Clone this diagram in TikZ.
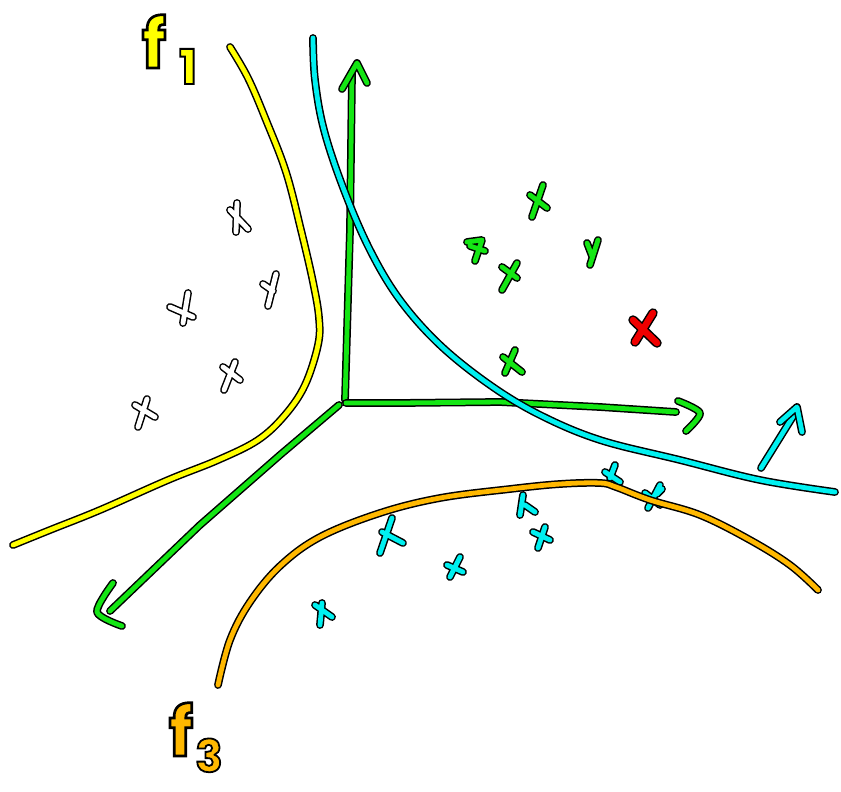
\documentclass[tikz,border=0pt]{standalone}
\usepackage{fontspec}
\setmainfont{Poppins}
\newfontfamily\outfont[FakeBold=4]{Poppins Bold}
\definecolor{cyy}{RGB}{255,255,0}
\definecolor{cgr}{RGB}{20,230,20}
\definecolor{ccy}{RGB}{0,240,240}
\definecolor{cor}{RGB}{255,184,0}
\definecolor{crd}{RGB}{240,0,0}
\newcommand\inktext[2]{{\color{#1}\special{pdf:code 0 G}#2}}
\tikzset{
  ink/.style={line width=4.8pt, line cap=round, line join=round,
    preaction={draw=black, line width=7.8pt, line cap=round, line join=round}},
  thick ink/.style={line width=6.5pt, line cap=round, line join=round,
    preaction={draw=black, line width=9.5pt, line cap=round, line join=round}},
  lbl/.style={inner sep=0pt, anchor=base},
}
\begin{document}
\begin{tikzpicture}[x=1pt,y=-1pt]
\useasboundingbox (0,0) rectangle (841,792);
% yellow boundary f1
\draw[ink,draw=cyy] plot[smooth,tension=0.6] coordinates {(230,47) (248,78) (266,120) (286,172) (301,230) (313,282) (319,318) (318,345) (305,385) (285,415) (258,440) (218,460) (168,480) (100,510) (50,530) (13,545)};
% green axes
\draw[ink,draw=cgr] (345,400) -- (350,230) -- (352,72);
\draw[ink,draw=cgr] (342,89) -- (357,63) -- (367,83);
\draw[ink,draw=cgr] (346,403) -- (400,403) -- (500,402) -- (600,407) -- (676,412);
\draw[ink,draw=cgr] plot[smooth] coordinates {(678,401) (700,413) (686,431)};
\draw[ink,draw=cgr] (339,405) -- (280,455) -- (200,525) -- (110,611);
\draw[ink,draw=cgr] plot[smooth] coordinates {(113,583) (97,612) (122,626)};
% cyan boundary
\draw[ink,draw=ccy] plot[smooth,tension=0.6] coordinates {(313,38) (315,80) (324,130) (344,190) (370,250) (400,300) (440,345) (490,385) (540,415) (600,440) (680,460) (760,480) (835,492)};
% cyan arrow
\draw[ink,draw=ccy] (761,468) -- (797,410);
\draw[ink,draw=ccy] (780,422) -- (797,407) -- (802,432);
% white marks
\draw[ink,draw=white] (237,203) -- (236,232) (230,210) -- (248,229);
\draw[ink,draw=white] (276,274) -- (268,306) (263,284) -- (273,291);
\draw[ink,draw=white] (188,293) -- (183,323) (170,307) -- (193,317);
\draw[ink,draw=white] (235,362) -- (224,390) (223,367) -- (240,380);
\draw[ink,draw=white] (147,399) -- (138,427) (135,405) -- (155,417);
% green marks
\draw[ink,draw=cgr] (543,185) -- (532,217) (530,195) -- (547,208);
\draw[ink,draw=cgr] (467,242) -- (482,240) -- (475,261) (470,246) -- (485,251);
\draw[ink,draw=cgr] (517,263) -- (502,290) (502,267) -- (517,278);
\draw[ink,draw=cgr] (598,240) -- (590,265) (587,243) -- (592,256);
\draw[ink,draw=cgr] (515,350) -- (505,373) (503,357) -- (522,372);
% red mark
\draw[thick ink,draw=crd] (653,313) -- (635,342) (633,320) -- (657,343);
% cyan marks
\draw[ink,draw=ccy] (392,518) -- (380,553) (382,532) -- (403,543);
\draw[ink,draw=ccy] (460,557) -- (450,577) (447,565) -- (463,572);
\draw[ink,draw=ccy] (322,603) -- (320,625) (315,605) -- (332,617);
\draw[ink,draw=ccy] (523,495) -- (520,515) (525,505) -- (535,512);
\draw[ink,draw=ccy] (545,527) -- (538,548) (533,532) -- (550,540);
\draw[ink,draw=ccy] (615,465) -- (610,478) (605,472) -- (620,482);
\draw[ink,draw=ccy] (660,485) -- (648,508) (645,493) -- (660,505) (657,494) -- (662,489);
% orange boundary f3
\draw[ink,draw=cor] plot[smooth,tension=0.6] coordinates {(218,685) (230,640) (250,602) (280,566) (320,537) (380,513) (440,498) (510,489) (560,484) (600,483) (616,487) (650,500) (700,515) (750,540) (790,565) (818,590)};
% labels
\node[lbl,font=\outfont\fontsize{68}{68}\selectfont] (f1) at (154,68) {\inktext{cyy}{f}};
\node[lbl,font=\outfont\fontsize{48}{48}\selectfont] (s1) at (188,84) {\inktext{cyy}{1}};
\node[lbl,font=\outfont\fontsize{68}{68}\selectfont] (f3) at (181,756) {\inktext{cor}{f}};
\node[lbl,font=\outfont\fontsize{45}{45}\selectfont] (s3) at (209,772) {\inktext{cor}{3}};
\end{tikzpicture}
\end{document}
